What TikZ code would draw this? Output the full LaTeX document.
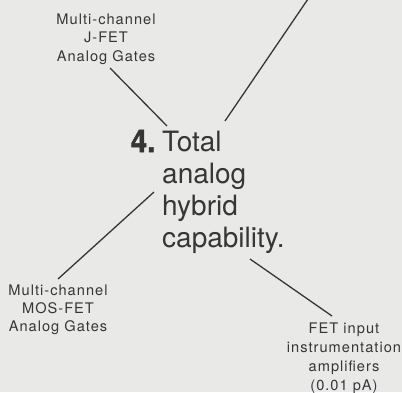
\documentclass[tikz,border=0pt]{standalone}
\usepackage{fontspec}
\setmainfont{TeX Gyre Heros}
\newfontfamily\smallfont[LetterSpace=7]{TeX Gyre Heros}
\newfontfamily\heavyfont{TeX Gyre Heros}[BoldFeatures={FakeBold=1.6}]
\definecolor{bgcol}{HTML}{E9E9E7}
\definecolor{inkcol}{HTML}{363636}
\begin{document}
\begin{tikzpicture}[x=1pt,y=-1pt,
  label text/.style={text=inkcol,font=\smallfont\fontsize{14.6}{18.3}\selectfont,align=center,inner sep=0pt},
  big text/.style={text=inkcol,font=\fontsize{28}{31.7}\selectfont,align=left,inner sep=0pt},
  leader/.style={draw=inkcol,line width=1.3pt}]
\fill[bgcol] (0,0) rectangle (402,392);
\useasboundingbox (0,0) rectangle (402,392);
% main text (base anchor = baseline of last line)
\node[big text,anchor=base west] (main) at (162,247) {Total\\analog\\hybrid\\capability.};
\node[text=inkcol,inner sep=0pt,anchor=base east,font=\heavyfont\bfseries\fontsize{28}{28}\selectfont] (num) at (155.5,152) {\scalebox{1.05}[1.12]{4.}};
% labels
\node[label text,anchor=base] (jfet) at (106,61) {Multi-channel\\J-FET\\Analog Gates};
\node[label text,anchor=base,font=\smallfont\fontsize{14.6}{17.6}\selectfont] (mos) at (58,331) {Multi-channel\\MOS-FET\\Analog Gates};
\node[label text,anchor=base,font=\smallfont\fontsize{14.6}{19}\selectfont] (fet) at (344,390) {FET input\\instrumentation\\amplifiers\\(0.01 pA)};
% connector ends
\coordinate (a1) at (110,68);
\coordinate (a2) at (167,126);
\coordinate (b1) at (225,121);
\coordinate (b2) at (308,-1);
\coordinate (c1) at (154,192);
\coordinate (c2) at (58,279);
\coordinate (d1) at (250,259);
\coordinate (d2) at (332,316);
\draw[leader] (a1) -- (a2);
\draw[leader] (b1) -- (b2);
\draw[leader] (c1) -- (c2);
\draw[leader] (d1) -- (d2);
\end{tikzpicture}
\end{document}
